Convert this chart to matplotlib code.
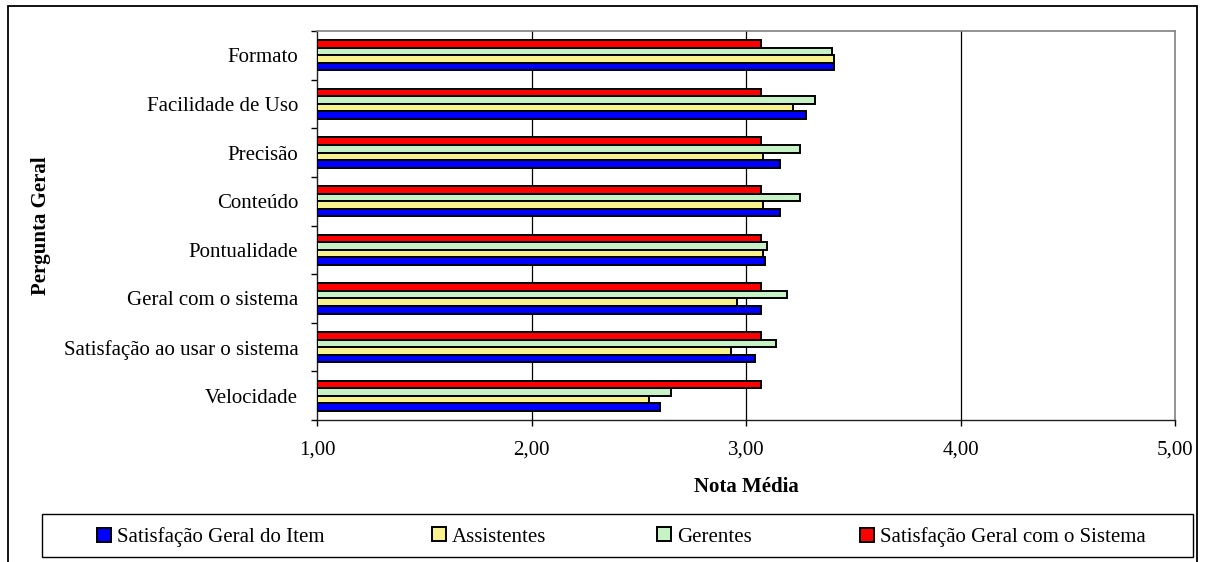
import numpy as np
import matplotlib
matplotlib.use('Agg')
import matplotlib.pyplot as plt
from matplotlib.patches import Rectangle

plt.rcParams['font.family'] = ['Liberation Serif', 'DejaVu Serif']

categories = ['Formato', 'Facilidade de Uso', 'Precisão', 'Conteúdo', 'Pontualidade',
              'Geral com o sistema', 'Satisfação ao usar o sistema', 'Velocidade']

item = [3.41, 3.28, 3.16, 3.16, 3.09, 3.07, 3.04, 2.60]
assistentes = [3.41, 3.22, 3.08, 3.08, 3.08, 2.96, 2.93, 2.55]
gerentes = [3.40, 3.32, 3.25, 3.25, 3.10, 3.19, 3.14, 2.65]
sistema = [3.07, 3.07, 3.07, 3.07, 3.07, 3.07, 3.07, 3.07]

x_ticks = [1, 2, 3, 4, 5]
x_ticklabels = ['1,00', '2,00', '3,00', '4,00', '5,00']

W, H = 1206, 562
fig = plt.figure(figsize=(W / 100, H / 100), dpi=100)
ax = fig.add_axes([317 / W, 1 - 420 / H, (1175 - 317) / W, (420 - 31) / H])

y = np.arange(len(categories))
h = 0.155
series = [
    (sistema, '#FF0000', -1.5, 'Satisfação Geral com o Sistema'),
    (gerentes, '#C6F2C6', -0.5, 'Gerentes'),
    (assistentes, '#F7F28E', 0.5, 'Assistentes'),
    (item, '#0000FF', 1.5, 'Satisfação Geral do Item'),
]
bars = {}
for vals, col, off, lab in series:
    bars[lab] = ax.barh(y + off * h, np.array(vals) - 1, left=1, height=h,
                        color=col, edgecolor='black', linewidth=1.4, zorder=3)

ax.set_xlim(1, 5)
ax.set_ylim(len(categories) - 0.5, -0.5)
ax.set_xticks(x_ticks)
ax.set_xticklabels(x_ticklabels, fontsize=15)
ax.set_yticks(y)
ax.set_yticklabels(categories, fontsize=15)
ax.set_yticks(np.arange(len(categories) + 1) - 0.5, minor=True)
ax.tick_params(axis='y', which='major', length=0, pad=13.5)
ax.tick_params(axis='y', which='minor', length=4, width=1, direction='out')
ax.tick_params(axis='x', length=4, width=1, direction='out', pad=11)

for xv in x_ticks[1:-1]:
    ax.axvline(xv, color='black', linewidth=0.9, zorder=1)

for s in ['top', 'right']:
    ax.spines[s].set_color('#808080')
    ax.spines[s].set_linewidth(1.2)
for s in ['left', 'bottom']:
    ax.spines[s].set_color('#202020')
    ax.spines[s].set_linewidth(1.0)

ax.set_xlabel('Nota Média', fontsize=15, fontweight='bold', labelpad=12)
ax.set_ylabel('Pergunta Geral', fontsize=15, fontweight='bold')
ax.yaxis.set_label_coords(-(317 - 51) / (1175 - 317), 0.5)

# legend: one entry per slot, framed by a single box
order = ['Satisfação Geral do Item', 'Assistentes', 'Gerentes', 'Satisfação Geral com o Sistema']
marker_x = [97, 432, 657, 860]
for lab, mx in zip(order, marker_x):
    fig.legend([bars[lab]], [lab], loc='center left', fontsize=15,
               bbox_to_anchor=(mx / W, 1 - 537 / H), frameon=False,
               handlelength=0.65, handleheight=0.65, handletextpad=0.3,
               borderpad=0, borderaxespad=0)

fig.patches.append(Rectangle((42 / W, 1 - 557 / H), (1193 - 42) / W, (557 - 514) / H,
                             transform=fig.transFigure, fill=False,
                             edgecolor='black', linewidth=1.0))
fig.patches.append(Rectangle((8 / W, -0.05), (1197 - 8) / W, (1 - 6 / H) + 0.05,
                             transform=fig.transFigure, fill=False,
                             edgecolor='black', linewidth=1.3))

fig.savefig('out.png', dpi=100)
